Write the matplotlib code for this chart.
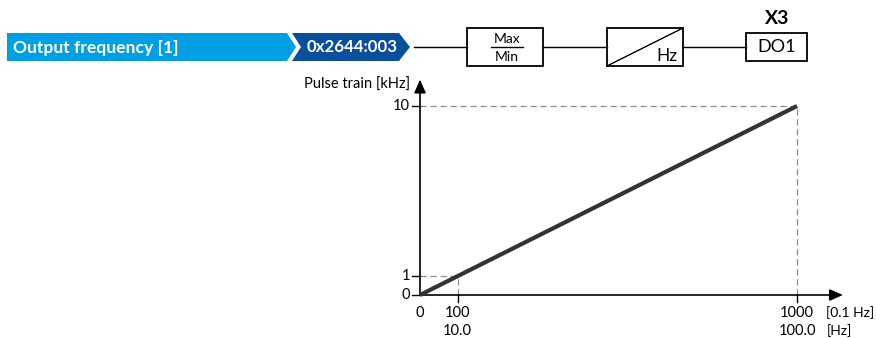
import matplotlib.pyplot as plt
from matplotlib.patches import Polygon, Rectangle

plt.rcParams['font.family'] = ['Lato', 'DejaVu Sans']

# characteristic: output frequency [0.1 Hz] -> pulse train [kHz]
freq_01hz = [0, 1000]
pulse_khz = [0, 10]
x_ticks = [0, 100, 1000]
x_labels_01hz = ["0", "100", "1000"]
x_labels_hz = ["", "10.0", "100.0"]
y_ticks = [0, 1, 10]
y_labels = ["0", "1", "10"]

W, H = 876, 338
fig = plt.figure(figsize=(W / 100, H / 100), dpi=100)

# overlay in pixel coordinates for the block diagram
ov = fig.add_axes([0, 0, 1, 1])
ov.set_xlim(0, W)
ov.set_ylim(H, 0)
ov.axis("off")

light = "#009fe3"
dark = "#0a4f9c"
ov.add_patch(Polygon([(7, 33), (287, 33), (296, 47), (287, 61), (7, 61)],
                     closed=True, fc=light, ec="none"))
ov.add_patch(Polygon([(292, 33), (399, 33), (410, 47), (399, 61), (292, 61), (301, 47)],
                     closed=True, fc=dark, ec="none"))
ov.text(13, 47.5, "Output frequency [1]", color="white", fontsize=12.6,
        fontweight="bold", va="center", ha="left")
ov.text(307, 47.5, "0x2644:003", color="white", fontsize=12.2,
        fontweight="bold", va="center", ha="left")

lk = dict(color="black", lw=1.0)
ov.plot([414, 467], [47, 47], **lk)
ov.plot([543, 607], [47, 47], **lk)
ov.plot([683, 746], [47, 47], **lk)

ov.add_patch(Rectangle((467, 28), 76, 38, fc="white", ec="black", lw=1.3))
ov.plot([491, 523], [47, 47], **lk)
ov.text(507, 39, "Max", fontsize=10, ha="center", va="center")
ov.text(507, 57, "Min", fontsize=10, ha="center", va="center")

ov.add_patch(Rectangle((607, 28), 76, 38, fc="white", ec="black", lw=1.3))
ov.plot([607, 683], [66, 28], **lk)
ov.text(667, 56, "Hz", fontsize=12.5, ha="center", va="center")

ov.add_patch(Rectangle((746, 33), 61, 28, fc="white", ec="black", lw=1.3))
ov.text(777, 47.5, "DO1", fontsize=13, ha="center", va="center")
ov.text(777, 19, "X3", fontsize=14, fontweight="bold", ha="center", va="center")

# chart axes: origin at pixel (420, 295), x=1000 at 797, y=10 at 106
x0, y0 = 420, 295
ax = fig.add_axes([x0 / W, (H - y0) / H, 377 / W, 189 / H])
ax.set_xlim(0, 1000)
ax.set_ylim(0, 10)
ax.axis("off")

# axes arrows
ax.annotate("", xy=(1122, 0), xytext=(0, 0), annotation_clip=False,
            arrowprops=dict(arrowstyle="-|>,head_length=0.8,head_width=0.35",
                            color="black", lw=1.2, shrinkA=0, shrinkB=0))
ax.annotate("", xy=(0, 11.4), xytext=(0, 0), annotation_clip=False,
            arrowprops=dict(arrowstyle="-|>,head_length=0.8,head_width=0.35",
                            color="black", lw=1.2, shrinkA=0, shrinkB=0))

# dashed guides
dk = dict(color="#8c8c8c", lw=0.9, ls=(0, (5, 3)), clip_on=False)
ax.plot([0, freq_01hz[1]], [pulse_khz[1], pulse_khz[1]], **dk)
ax.plot([freq_01hz[1], freq_01hz[1]], [0, pulse_khz[1]], **dk)
ax.plot([0, x_ticks[1]], [y_ticks[1], y_ticks[1]], **dk)
ax.plot([x_ticks[1], x_ticks[1]], [0, y_ticks[1]], **dk)

ax.plot(freq_01hz, pulse_khz, color="#333333", lw=3.0, solid_capstyle="butt",
        clip_on=False, zorder=5)

# ticks and labels
fs = 10.5
for yt, lab in zip(y_ticks, y_labels):
    ax.plot([-20, 0], [yt, yt], color="black", lw=1.0, clip_on=False)
    ax.text(-27, yt, lab, fontsize=fs, ha="right", va="center")
for xt, lab, lab2 in zip(x_ticks, x_labels_01hz, x_labels_hz):
    if xt > 0:
        ax.plot([xt, xt], [0, -0.35], color="black", lw=1.0, clip_on=False)
    ax.text(xt, -0.95, lab, fontsize=fs, ha="center", va="center")
    if lab2:
        ax.text(xt, -1.9, lab2, fontsize=fs, ha="center", va="center")
ax.text(1078, -0.95, "[0.1 Hz]", fontsize=10, ha="left", va="center")
ax.text(1078, -1.9, "[Hz]", fontsize=10, ha="left", va="center")
ax.text(-27, 11.1, "Pulse train [kHz]", fontsize=fs, ha="right", va="center")

fig.savefig("out.png", dpi=100)
